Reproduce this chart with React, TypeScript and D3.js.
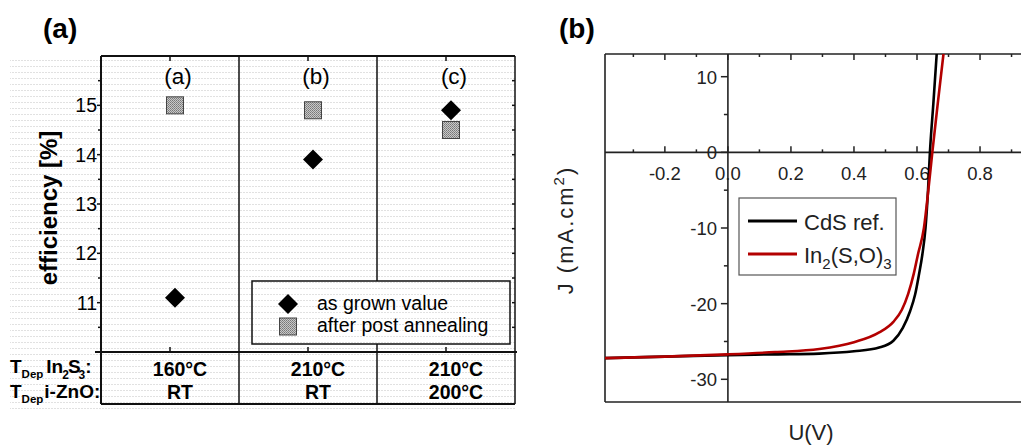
import React from "react";
import * as d3 from "d3";

// ---------- panel (a) data ----------
const categories = ["(a)", "(b)", "(c)"];
const asGrown = [11.1, 13.9, 14.9];
const afterAnnealing = [15.0, 14.9, 14.5];
const effTicks = [11, 12, 13, 14, 15];
const effMinorTicks = [10.5, 11.5, 12.5, 13.5, 14.5, 15.5];
const tDepIn2S3 = ["160°C", "210°C", "210°C"];
const tDepZnO = ["RT", "RT", "200°C"];

// ---------- panel (b) data ----------
const cdsV = [-0.39, -0.2, 0, 0.15, 0.29, 0.4, 0.48, 0.525, 0.555, 0.578, 0.594, 0.606, 0.617, 0.627, 0.635, 0.641, 0.652, 0.6625, 0.672];
const cdsJ = [-27.2, -27.0, -26.8, -26.7, -26.6, -26.3, -25.8, -24.9, -23.2, -21.0, -18.8, -16.2, -13.5, -10, -5, 0, 6.5, 13, 19];
const inV = [-0.39, -0.2, 0, 0.15, 0.29, 0.4, 0.48, 0.525, 0.552, 0.572, 0.59, 0.603, 0.622, 0.636, 0.6486, 0.666, 0.684, 0.7];
const inJ = [-27.2, -27.0, -26.7, -26.4, -26.0, -25.1, -23.8, -22.4, -20.8, -18.7, -16, -13.5, -10, -5, 0, 6.5, 13, 19];
const uTicks = [-0.2, 0, 0.2, 0.4, 0.6, 0.8];
const uTickLabels = ["-0.2", "0.0", "0.2", "0.4", "0.6", "0.8"];
const uMinorTicks = [-0.3, -0.1, 0.1, 0.3, 0.5, 0.7, 0.9];
const jTicks = [-30, -20, -10, 0, 10];
const jMinorTicks = [-25, -15, -5, 5];

const FONT = "'Liberation Sans', Arial, Helvetica, sans-serif";

export default function App() {
  // panel (a) scales
  const xa = d3.scaleBand<string>().domain(categories).range([101, 515]);
  const ya = d3.scaleLinear().domain([10, 16]).range([352, 56]);
  const cx = (c: string) => (xa(c) as number) + xa.bandwidth() / 2;

  // panel (b) scales
  const xb = d3.scaleLinear().domain([-0.39, 0.93]).range([605, 1021]);
  const yb = d3.scaleLinear().domain([-33, 13]).range([402, 54]);
  const line = d3
    .line<[number, number]>()
    .x((d) => xb(d[0]))
    .y((d) => yb(d[1]))
    .curve(d3.curveMonotoneX);
  const cdsPts = cdsV.map((v, i) => [v, cdsJ[i]] as [number, number]);
  const inPts = inV.map((v, i) => [v, inJ[i]] as [number, number]);

  const diamond = d3.symbol().type(d3.symbolSquare).size(200)() as string;
  const x0 = xb(0);
  const yZero = yb(0);

  const dividers = [xa("(b)") as number, xa("(c)") as number];

  return (
    <svg
      width={1021}
      height={447}
      style={{ position: "absolute", left: 0, top: 0, background: "#fff" }}
      fontFamily={FONT}
    >
      <defs>
        <pattern id="scan" width={3} height={6} patternUnits="userSpaceOnUse">
          <rect x={0} y={0} width={2} height={1} fill="#e1e1e1" />
        </pattern>
        <pattern id="stipple" width={2} height={2} patternUnits="userSpaceOnUse">
          <rect x={0} y={0} width={2} height={2} fill="#c8c8c8" />
          <rect x={0} y={0} width={1} height={1} fill="#777" />
          <rect x={1} y={1} width={1} height={1} fill="#8a8a8a" />
        </pattern>
        <clipPath id="clipb">
          <rect x={605} y={54} width={416} height={348} />
        </clipPath>
      </defs>

      {/* ================= PANEL (a) ================= */}
      <rect x={10} y={60} width={505} height={350} fill="url(#scan)" />
      <text x={43} y={38} fontSize={28} fontWeight="bold">(a)</text>

      {/* frame */}
      <line x1={101} x2={515} y1={56} y2={56} stroke="#111" strokeWidth={2} />
      <line x1={101} x2={101} y1={56} y2={404} stroke="#111" strokeWidth={2} />
      <line x1={515} x2={515} y1={56} y2={404} stroke="#111" strokeWidth={1.5} />
      <line x1={95} x2={517} y1={352} y2={352} stroke="#111" strokeWidth={2} />
      <line x1={101} x2={515} y1={404} y2={404} stroke="#111" strokeWidth={2} />
      {dividers.map((d, i) => (
        <line key={i} x1={d} x2={d} y1={56} y2={404} stroke="#111" strokeWidth={1.5} />
      ))}

      {/* y ticks */}
      {effTicks.map((t) => (
        <g key={t}>
          <line x1={97} x2={101} y1={ya(t)} y2={ya(t)} stroke="#111" strokeWidth={1.5} />
          <line x1={512} x2={515} y1={ya(t)} y2={ya(t)} stroke="#111" strokeWidth={1.5} />
          <text x={97} y={ya(t) + 7} fontSize={19.5} textAnchor="end">{t}</text>
        </g>
      ))}
      {effMinorTicks.map((t) => (
        <g key={t}>
          <line x1={98} x2={101} y1={ya(t)} y2={ya(t)} stroke="#111" strokeWidth={1.5} />
          <line x1={512} x2={515} y1={ya(t)} y2={ya(t)} stroke="#111" strokeWidth={1.5} />
        </g>
      ))}
      {/* top/bottom ticks */}
      {categories.map((c) => (
        <g key={c}>
          <line x1={cx(c)} x2={cx(c)} y1={56} y2={61} stroke="#111" strokeWidth={1.5} />
          <line x1={cx(c)} x2={cx(c)} y1={347} y2={352} stroke="#111" strokeWidth={1.5} />
          <text x={cx(c) + 8} y={84} fontSize={22.5} textAnchor="middle">{c}</text>
        </g>
      ))}

      <text
        transform="translate(57,208) rotate(-90)"
        fontSize={24}
        fontWeight="bold"
        textAnchor="middle"
      >
        efficiency [%]
      </text>

      {/* markers */}
      {categories.map((c, i) => (
        <g key={c}>
          <rect
            x={cx(c) + 5 - 8.5}
            y={ya(afterAnnealing[i]) - 8.5}
            width={17}
            height={17}
            fill="url(#stipple)"
            stroke="#444"
            strokeWidth={1}
          />
          <path
            d={diamond}
            transform={`translate(${cx(c) + 5},${ya(asGrown[i])}) rotate(45)`}
            fill="#000"
          />
        </g>
      ))}

      {/* legend (a) */}
      <rect x={252} y={281} width={258} height={63} fill="#fff" />
      <rect x={252} y={281} width={258} height={63} fill="url(#scan)" stroke="#111" strokeWidth={1.5} />
      <path d={diamond} transform="translate(288,304) rotate(45)" fill="#000" />
      <rect x={279.5} y={318} width={17} height={17} fill="url(#stipple)" stroke="#444" strokeWidth={1} />
      <text x={317} y={310} fontSize={19.5}>as grown value</text>
      <text x={317} y={332} fontSize={19.5}>after post annealing</text>

      {/* table */}
      <text x={10} y={373} fontSize={19} fontWeight="bold">
        T<tspan fontSize={11.5} dy={5}>Dep</tspan>
        <tspan dy={-5} dx={3}>In</tspan>
        <tspan fontSize={12} dy={6} dx={-1}>2</tspan>
        <tspan dy={-6} dx={-1}>S</tspan>
        <tspan fontSize={12} dy={6} dx={-2}>3</tspan>
        <tspan dy={-6}>:</tspan>
      </text>
      <text x={10} y={398} fontSize={19} fontWeight="bold">
        T<tspan fontSize={11.5} dy={5}>Dep</tspan>
        <tspan dy={-5} dx={1}>i-ZnO:</tspan>
      </text>
      {categories.map((c, i) => (
        <g key={c}>
          <text x={cx(c) + 10} y={376} fontSize={19.5} fontWeight="bold" textAnchor="middle">
            {tDepIn2S3[i]}
          </text>
          <text x={cx(c) + 10} y={399} fontSize={19.5} fontWeight="bold" textAnchor="middle">
            {tDepZnO[i]}
          </text>
        </g>
      ))}

      {/* ================= PANEL (b) ================= */}
      <text x={559} y={38} fontSize={28} fontWeight="bold">(b)</text>

      {/* frame */}
      <line x1={605} x2={1021} y1={54} y2={54} stroke="#222" strokeWidth={1.6} />
      <line x1={605} x2={1021} y1={402} y2={402} stroke="#222" strokeWidth={1.6} />
      <line x1={605} x2={605} y1={54} y2={402} stroke="#222" strokeWidth={1.6} />
      {/* zero axes */}
      <line x1={605} x2={1021} y1={yZero} y2={yZero} stroke="#222" strokeWidth={1.6} />
      <line x1={x0} x2={x0} y1={54} y2={402} stroke="#222" strokeWidth={1.6} />

      {uTicks.map((t, i) => (
        <g key={t}>
          <line x1={xb(t)} x2={xb(t)} y1={yZero} y2={yZero - 6} stroke="#222" strokeWidth={1.5} />
          <line x1={xb(t)} x2={xb(t)} y1={54} y2={60} stroke="#222" strokeWidth={1.5} />
          <text x={xb(t)} y={180} fontSize={18.5} textAnchor="middle" fill="#222">
            {uTickLabels[i]}
          </text>
        </g>
      ))}
      {uMinorTicks.map((t) => (
        <g key={t}>
          <line x1={xb(t)} x2={xb(t)} y1={yZero} y2={yZero - 3} stroke="#222" strokeWidth={1.5} />
          <line x1={xb(t)} x2={xb(t)} y1={54} y2={57} stroke="#222" strokeWidth={1.5} />
        </g>
      ))}
      {jTicks.map((t) => (
        <g key={t}>
          <line x1={x0 - 7} x2={x0} y1={yb(t)} y2={yb(t)} stroke="#222" strokeWidth={1.5} />
          <text x={717} y={yb(t) + 7} fontSize={18.5} textAnchor="end" fill="#222">
            {t}
          </text>
        </g>
      ))}
      {jMinorTicks.map((t) => (
        <line key={t} x1={x0 - 4} x2={x0} y1={yb(t)} y2={yb(t)} stroke="#222" strokeWidth={1.5} />
      ))}

      {/* curves */}
      <g clipPath="url(#clipb)">
        <path d={line(cdsPts) as string} fill="none" stroke="#000" strokeWidth={2.6} />
        <path d={line(inPts) as string} fill="none" stroke="#b30000" strokeWidth={2.6} />
      </g>

      {/* legend (b) */}
      <rect x={739} y={198} width={157} height={77} fill="#fff" stroke="#555" strokeWidth={1.2} />
      <line x1={748} x2={797} y1={221} y2={221} stroke="#000" strokeWidth={3} />
      <line x1={748} x2={797} y1={254} y2={254} stroke="#b30000" strokeWidth={3} />
      <text x={804} y={230} fontSize={22} fill="#222">CdS ref.</text>
      <text x={804} y={263} fontSize={22} fill="#222">
        In<tspan fontSize={15} dy={6}>2</tspan>
        <tspan dy={-6}>(S,O)</tspan>
        <tspan fontSize={15} dy={6}>3</tspan>
      </text>

      {/* axis titles */}
      <text
        transform="translate(573,230) rotate(-90)"
        fontSize={22}
        textAnchor="middle"
        fill="#222"
        letterSpacing={2}
      >
        J (mA.cm<tspan fontSize={15} dy={-9}>2</tspan>
        <tspan dy={9}>)</tspan>
      </text>
      <text x={811} y={440} fontSize={22} textAnchor="middle" fill="#222">
        U(V)
      </text>
    </svg>
  );
}
